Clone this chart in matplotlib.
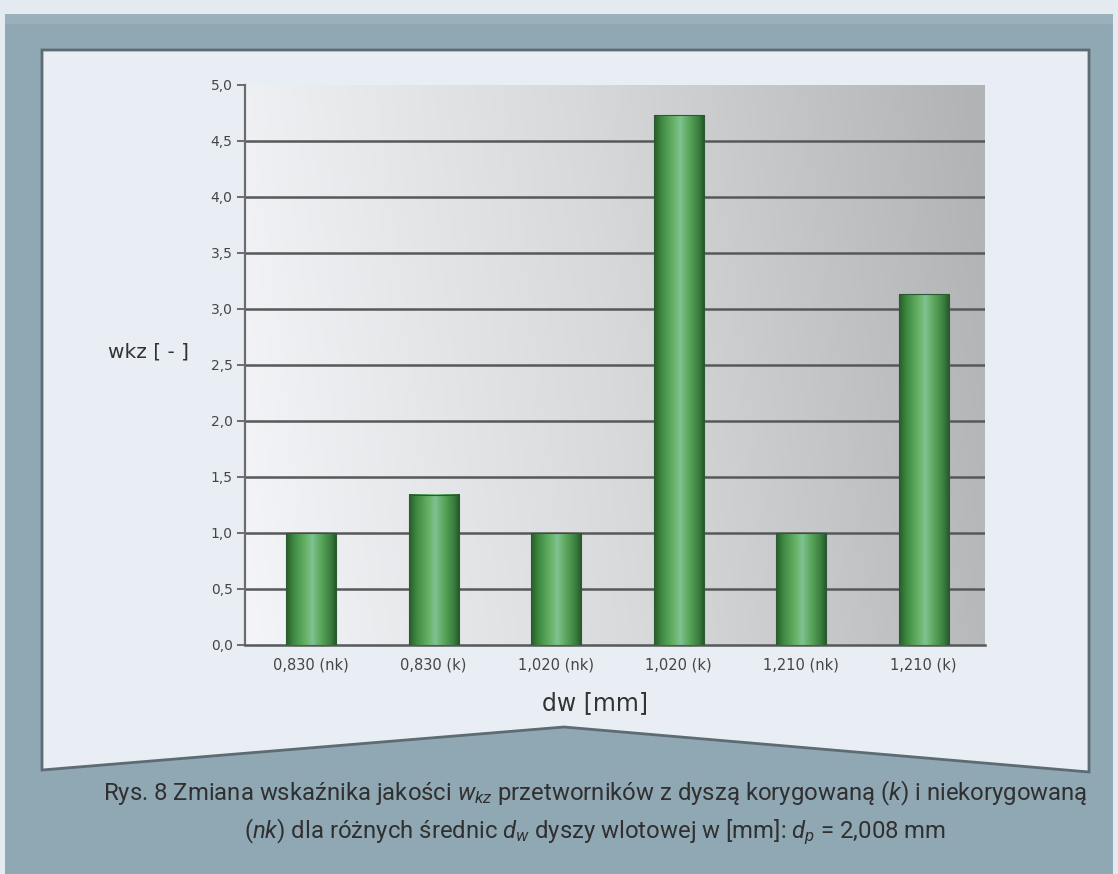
import numpy as np
import matplotlib
matplotlib.use("Agg")
import matplotlib.pyplot as plt
from matplotlib.colors import LinearSegmentedColormap
from matplotlib.patches import Polygon, Rectangle

# Data
categories = ["0,830 (nk)", "0,830 (k)", "1,020 (nk)", "1,020 (k)", "1,210 (nk)", "1,210 (k)"]
wkz_values = [1.0, 1.34, 1.0, 4.73, 1.0, 3.13]
y_ticks = [0.0, 0.5, 1.0, 1.5, 2.0, 2.5, 3.0, 3.5, 4.0, 4.5, 5.0]
y_tick_labels = ["0,0", "0,5", "1,0", "1,5", "2,0", "2,5", "3,0", "3,5", "4,0", "4,5", "5,0"]

caption_line1 = (r"Rys. 8 Zmiana wskaźnika jakości $w_{kz}$ przetworników z dyszą "
                 r"korygowaną ($k$) i niekorygowaną")
caption_line2 = r"($nk$) dla różnych średnic $d_{w}$ dyszy wlotowej w [mm]: $d_{p}$ = 2,008 mm"

W, H = 1118, 874
caption_font = ["Roboto", "DejaVu Sans"]
plt.rcParams["mathtext.fontset"] = "custom"
plt.rcParams["mathtext.rm"] = "Roboto"
plt.rcParams["mathtext.it"] = "Roboto:italic"

fig = plt.figure(figsize=(W / 100, H / 100), dpi=100, facecolor="#e4ebf0")

# Page frame drawn in pixel coordinates
bg = fig.add_axes([0, 0, 1, 1], zorder=0)
bg.set_xlim(0, W)
bg.set_ylim(H, 0)
bg.axis("off")
bg.add_patch(Rectangle((5, 14), W - 10, H - 14, facecolor="#8fa8b4", edgecolor="none"))
bg.add_patch(Rectangle((5, 14), W - 10, 10, facecolor="#a3b8c2", edgecolor="none", alpha=0.6))
panel = [(42, 50), (1089, 50), (1089, 772), (564, 727), (42, 770)]
bg.add_patch(Polygon(panel, closed=True, facecolor="#e9eef4", edgecolor="#5d6b72", lw=2.0))

# Caption
bg.text(595, 793, caption_line1, ha="center", va="center", fontsize=17.2,
        family=caption_font, color="#303030")
bg.text(595, 832, caption_line2, ha="center", va="center", fontsize=17.2,
        family=caption_font, color="#303030")

# Chart
ax = fig.add_axes([245 / W, 1 - 645 / H, 740 / W, 560 / H], zorder=2)
ax.set_facecolor("none")
n = len(categories)
x = np.arange(n)
xlim = (-0.54, 5.50)

# Gradient plot background: light on the left, grey on the right
gx = np.linspace(0, 1, 256)
gy = np.linspace(0, 1, 64)
GX, GY = np.meshgrid(gx, gy)
shade = np.clip(0.08 + 0.85 * GX + 0.08 * GY, 0, 1)
bg_cmap = LinearSegmentedColormap.from_list("plotbg", ["#f3f5f8", "#d8d9db", "#b2b3b5"])
ax.imshow(shade, cmap=bg_cmap, extent=(0, 1, 0, 1), transform=ax.transAxes,
          aspect="auto", zorder=0, origin="lower")

# Gridlines (no line at the top value)
for yv in y_ticks[1:-1]:
    ax.axhline(yv, color="#56585a", lw=1.8, zorder=1)

# Cylinder-shaded bars
bar_cmap = LinearSegmentedColormap.from_list(
    "cyl", [(0.0, "#285c2c"), (0.15, "#3f8a43"), (0.38, "#66b266"),
            (0.52, "#80c292"), (0.68, "#5ca85e"), (0.88, "#3a7f3e"), (1.0, "#245427")])
bar_w = 0.41
grad = np.linspace(0, 1, 128).reshape(1, -1)
for xi, v in zip(x, wkz_values):
    ax.imshow(grad, cmap=bar_cmap, extent=(xi - bar_w / 2, xi + bar_w / 2, 0, v),
              aspect="auto", zorder=3, origin="lower")
    ax.add_patch(Rectangle((xi - bar_w / 2, 0), bar_w, v, facecolor="none",
                           edgecolor="#2c5a30", lw=0.8, zorder=4))

ax.set_xlim(*xlim)
ax.set_ylim(0, 5.0)

# Axes styling
for side in ["top", "right"]:
    ax.spines[side].set_visible(False)
ax.spines["left"].set_color("#6a6c6e")
ax.spines["left"].set_linewidth(1.6)
ax.spines["bottom"].set_color("#56585a")
ax.spines["bottom"].set_linewidth(1.8)
ax.set_yticks(y_ticks)
ax.set_yticklabels(y_tick_labels, fontsize=10, color="#454545", family="DejaVu Sans")
ax.tick_params(axis="y", length=6, width=1.4, color="#6a6c6e", pad=3)
ax.set_xticks(x)
ax.set_xticklabels(categories, fontsize=10.5, color="#454545", family="DejaVu Sans")
ax.tick_params(axis="x", length=0, pad=9)

ax.set_ylabel("wkz [ - ]", rotation=0, fontsize=14.5, color="#333333",
              family="DejaVu Sans", ha="center", va="center")
ax.yaxis.set_label_coords(-0.131, 0.523)
ax.set_xlabel("dw [mm]", fontsize=17, color="#333333", family="DejaVu Sans",
              ha="center", va="center")
ax.xaxis.set_label_coords(0.473, -0.104)

fig.savefig("out.png", dpi=100, facecolor=fig.get_facecolor())
